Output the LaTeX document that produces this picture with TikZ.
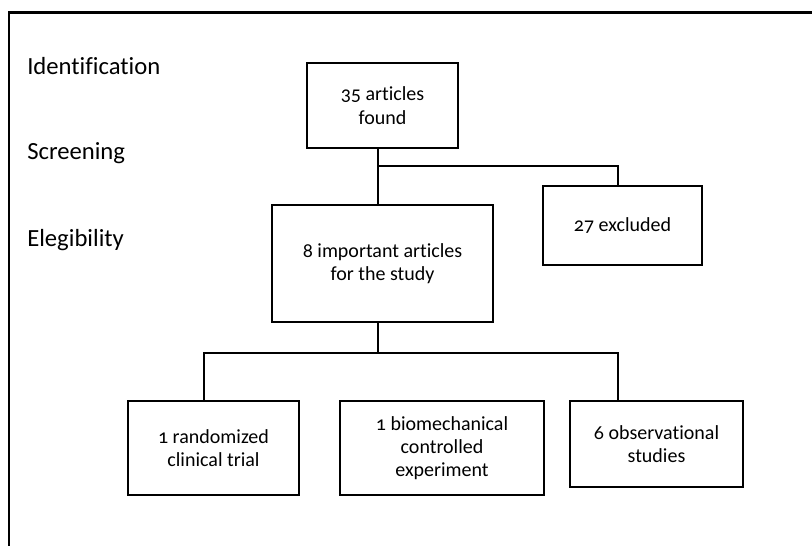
\documentclass[tikz,border=0pt]{standalone}
\usepackage{fontspec}
\setmainfont{Carlito}[RawFeature=-liga]
\newfontfamily\boxfont[Numbers=OldStyle,RawFeature=-liga]{Carlito}
\tikzset{
	stage/.style={anchor=west,inner sep=0pt,font=\fontsize{18.5}{22}\selectfont},
	box/.style={draw,line width=1.1pt,align=center,inner sep=0pt,
		font=\boxfont\fontsize{15}{17.5}\selectfont},
	link/.style={line width=1.1pt}
}
\begin{document}
\begin{tikzpicture}[x=0.75pt,y=-0.75pt]
		\useasboundingbox (0,0) rectangle (812,546);
		\draw[line width=1.6pt] (812,12.5) -- (9,12.5) -- (9,546);

		\node[stage] (ident) at (27,66) {Identification};
		\node[stage] (screen) at (27,153) {Screening};
		\node[stage] (elig) at (27,240) {Elegibility};

		\node[box,minimum width=151*0.75pt,minimum height=85*0.75pt] (found) at (382.5,105.5) {35 articles\\found};
		\node[box,minimum width=159*0.75pt,minimum height=79*0.75pt] (excl) at (622.5,225.5) {27 excluded};
		\node[box,minimum width=221*0.75pt,minimum height=117*0.75pt] (imp) at (382.5,263.5) {8 important articles\\for the study};
		\node[box,minimum width=171*0.75pt,minimum height=94*0.75pt] (rct) at (213.5,448) {1 randomized\\clinical trial};
		\node[box,minimum width=204*0.75pt,minimum height=94*0.75pt] (bio) at (442,448) {1 biomechanical\\controlled\\experiment};
		\node[box,minimum width=173*0.75pt,minimum height=86*0.75pt] (obs) at (656.5,444) {6 observational\\studies};

		% branch points
		\coordinate (b1) at (378,166);
		\coordinate (b2) at (378,353);
		\draw[link] (found.south -| b1) -- (imp.north -| b1);
		\draw[link] (b1) -| ([xshift=-4.5*0.75pt]excl.north);
		\draw[link] (imp.south -| b2) -- (b2);
		\draw[link] (rct.north -| 204,0) |- (b2) -| ([xshift=-38.5*0.75pt]obs.north);
	\end{tikzpicture}
\end{document}
